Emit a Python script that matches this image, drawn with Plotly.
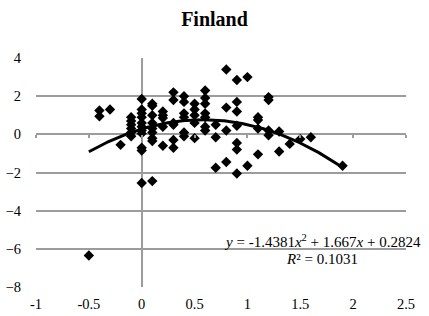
import plotly.graph_objects as go
import numpy as np

title = "Finland"
x_vals = [-0.5,
          -0.4, -0.4, -0.3,
          -0.2,
          -0.1, -0.1, -0.1, -0.1, -0.1, -0.1,
          0, 0, 0, 0, 0, 0, 0, 0, 0, 0, 0,
          0.1, 0.1, 0.1, 0.1, 0.1, 0.1, 0.1, 0.1, 0.1,
          0.2, 0.2, 0.2, 0.2, 0.2,
          0.3, 0.3, 0.3, 0.3, 0.3, 0.3,
          0.4, 0.4, 0.4, 0.4, 0.4, 0.4,
          0.5, 0.5, 0.5, 0.5, 0.5,
          0.6, 0.6, 0.6, 0.6, 0.6, 0.6, 0.6,
          0.7, 0.7, 0.7,
          0.8, 0.8, 0.8, 0.8,
          0.9, 0.9, 0.9, 0.9, 0.9, 0.9, 0.9,
          1.0, 1.0,
          1.1, 1.1, 1.1, 1.1,
          1.2, 1.2, 1.2, 1.2,
          1.3, 1.3,
          1.4, 1.5, 1.6, 1.9]
y_vals = [-6.35,
          1.25, 0.95, 1.3,
          -0.55,
          0.9, 0.7, 0.5, 0.3, 0.1, -0.1,
          1.85, 1.3, 1.1, 0.9, 0.6, 0.4, 0.2, 0.05, -0.7, -0.85, -2.55,
          1.6, 1.5, 1.0, 0.6, 0.3, 0.1, -0.2, -0.35, -2.45,
          1.2, 1.0, 0.85, 0.4, -0.6,
          2.2, 1.8, 0.6, 0.5, -0.3, -0.7,
          2.0, 1.7, 1.1, 0.9, 0.1, -0.1,
          1.6, 1.3, 1.0, 0.6, -0.2,
          2.3, 1.9, 1.6, 1.1, 0.9, 0.4, 0.2,
          0.5, -0.15, -1.75,
          3.4, 1.4, 0.2, -1.45,
          2.85, 1.7, 1.2, 0.45, -0.45, -0.8, -2.05,
          3.0, -1.65,
          0.9, 0.75, 0.3, -1.05,
          1.95, 1.8, 0.2, -0.05,
          0.15, -0.9,
          -0.5, -0.25, -0.15, -1.65]

# Trendline (polynomial order 2) coefficients as displayed on the chart
trend_coef = [-1.4381, 1.667, 0.2824]
r_squared = 0.1031
x_ticks = [-1, -0.5, 0, 0.5, 1, 1.5, 2, 2.5]
x_tick_text = ["-1", "-0.5", "0", "0.5", "1", "1.5", "2", "2.5"]
y_ticks = [-8, -6, -4, -2, 0, 2, 4]

tx = np.linspace(min(x_vals), max(x_vals), 200)
ty = np.polyval(trend_coef, tx)

SERIF = "Liberation Serif, Times New Roman, serif"
GRID = "#9c9c9c"
W, H = 429, 316
L, R, T, B = 36, 23, 58, 29
PW, PH = W - L - R, H - T - B

fig = go.Figure()
fig.add_trace(go.Scatter(x=x_vals, y=y_vals, mode="markers",
                         marker=dict(symbol="diamond", size=8, color="black",
                                     line=dict(width=0)),
                         showlegend=False, hoverinfo="skip"))
fig.add_trace(go.Scatter(x=tx, y=ty, mode="lines", xaxis="x2",
                         line=dict(color="black", width=3),
                         showlegend=False, hoverinfo="skip"))

eq_line1 = "<i>y</i> = -1.4381<i>x</i><sup>2</sup> + 1.667<i>x</i> + 0.2824"
eq_line2 = "<i>R</i>² = %.4f" % r_squared

fig.update_layout(
    width=W, height=H,
    margin=dict(l=L, r=R, t=T, b=B, autoexpand=False),
    paper_bgcolor="white", plot_bgcolor="white",
    font=dict(family=SERIF, size=14, color="black"),
    title=dict(text="<b>%s</b>" % title, x=0.5, xanchor="center",
               y=1 - 19 / H, yanchor="middle",
               font=dict(family=SERIF, size=20, color="black")),
    xaxis=dict(range=[-1, 2.5], tickvals=x_ticks, ticktext=x_tick_text,
               showgrid=False, showline=False, zeroline=True,
               zerolinecolor=GRID, zerolinewidth=1.5, ticks="",
               ticklabelstandoff=6, automargin=False,
               tickfont=dict(family=SERIF, size=14.5, color="black")),
    xaxis2=dict(range=[-1, 2.5], overlaying="x", matches="x", anchor="free",
                position=8 / 12, side="bottom", tickvals=x_ticks,
                showticklabels=False, showgrid=False, zeroline=False,
                showline=False, ticks="outside", ticklen=3, tickwidth=1.5,
                tickcolor=GRID, automargin=False),
    yaxis=dict(range=[-8, 4], tickvals=y_ticks, showgrid=True,
               gridcolor=GRID, gridwidth=1.5, zeroline=False,
               showline=False, ticks="", ticklabelstandoff=14,
               automargin=False,
               tickfont=dict(family=SERIF, size=14.5, color="black")),
    annotations=[
        dict(text=eq_line1, xref="paper", yref="paper",
             x=(322 - L) / PW, y=(H - B - 240.5) / PH,
             xanchor="center", yanchor="middle", showarrow=False,
             font=dict(family=SERIF, size=15, color="black")),
        dict(text=eq_line2, xref="paper", yref="paper",
             x=(322 - L) / PW, y=(H - B - 258.5) / PH,
             xanchor="center", yanchor="middle", showarrow=False,
             font=dict(family=SERIF, size=15, color="black")),
    ],
)

fig.write_html("out.html", config={"displayModeBar": False},
               post_script="document.body.style.margin='0';"
                           "document.body.style.overflow='hidden';")
